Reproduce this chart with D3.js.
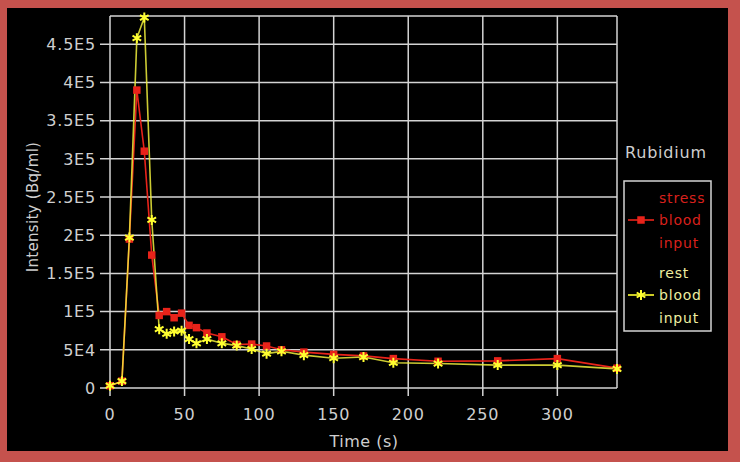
<!DOCTYPE html>
<html>
<head>
<meta charset="utf-8">
<script src="https://cdn.jsdelivr.net/npm/d3@7"></script>
<style>
  body { margin: 0; background: #c5524d; }
  svg { display: block; }
  text { font-family: "DejaVu Sans", sans-serif; }
</style>
</head>
<body>
<script>
// time points (s), shared by both curves
var times = [0, 8, 13, 18, 23, 28, 33, 38, 43, 48, 53, 58, 65, 75, 85, 95, 105, 115, 130, 150, 170, 190, 220, 260, 300, 340];
// stress blood input (Bq/ml)
var stressValues = [3000, 9000, 195000, 390000, 310000, 174000, 95000, 100000, 92000, 98000, 82000, 79000, 72000, 67000, 57000, 57500, 55000, 50000, 47000, 44000, 42000, 38500, 35000, 35500, 38500, 26000];
// rest blood input (Bq/ml)
var restValues = [3000, 9000, 197000, 458000, 485000, 220000, 77000, 71000, 74000, 75000, 64000, 58500, 64000, 58500, 55500, 51000, 45000, 48000, 43000, 39000, 40500, 33000, 32000, 30000, 30000, 25000];
var xTicks = [0, 50, 100, 150, 200, 250, 300];
var yTicks = [0, 5e4, 1e5, 1.5e5, 2e5, 2.5e5, 3e5, 3.5e5, 4e5, 4.5e5];
var xMax = 340, yMax = 487000;

var W = 740, H = 462;
var svg = d3.select("body").append("svg").attr("width", W).attr("height", H);

// red frame + black panel
svg.append("rect").attr("x", 0).attr("y", 0).attr("width", W).attr("height", H).attr("fill", "#c5524d");
svg.append("rect").attr("x", 7).attr("y", 8).attr("width", 721).attr("height", 443).attr("fill", "#000");

var x = d3.scaleLinear().domain([0, xMax]).range([110, 617]);
var y = d3.scaleLinear().domain([0, yMax]).range([388, 16]);

function fmtE(v){
    if(v==0) return "0";
    var e = Math.floor(Math.log10(v));
    var m = +(v/Math.pow(10,e)).toFixed(2);
    return m + "E" + e;
}

var gridColor = "#d4d4d4";
var labelColor = "#cfcfcf";

// grid
var grid = svg.append("g");
yTicks.forEach(function(t){
    grid.append("line").attr("x1", x(0)-10).attr("x2", x(xMax)).attr("y1", y(t)).attr("y2", y(t))
        .style("stroke", gridColor).style("stroke-width", "1.5px");
});
grid.append("line").attr("x1", x(0)).attr("x2", x(xMax)).attr("y1", y(yMax)).attr("y2", y(yMax))
    .style("stroke", gridColor).style("stroke-width", "1.5px");
xTicks.forEach(function(t){
    grid.append("line").attr("x1", x(t)).attr("x2", x(t)).attr("y1", y(0)+8).attr("y2", y(yMax))
        .style("stroke", gridColor).style("stroke-width", "1.5px");
});
grid.append("line").attr("x1", x(xMax)).attr("x2", x(xMax)).attr("y1", y(0)).attr("y2", y(yMax))
    .style("stroke", gridColor).style("stroke-width", "1.5px");

// tick labels
svg.append("g").selectAll("text").data(yTicks).join("text")
    .attr("x", 96).attr("y", function(d){ return y(d); }).attr("dy", "0.36em")
    .attr("text-anchor", "end").style("font-size", "16px").style("letter-spacing", "0.8px")
    .attr("fill", labelColor).text(fmtE);

svg.append("g").selectAll("text").data(xTicks).join("text")
    .attr("x", function(d){ return x(d); }).attr("y", 414).attr("dy", "0.36em")
    .attr("text-anchor", "middle").style("font-size", "16px").style("letter-spacing", "0.8px")
    .attr("fill", labelColor).text(function(d){ return d; });

// axis titles
svg.append("text").attr("x", 364).attr("y", 441).attr("dy", "0.36em").attr("text-anchor", "middle")
    .style("font-size", "16px").style("letter-spacing", "0.5px").attr("fill", labelColor).text("Time (s)");
svg.append("text").attr("transform", "translate(33,207) rotate(-90)").attr("dy", "0.36em").attr("text-anchor", "middle")
    .style("font-size", "15px").style("letter-spacing", "0.3px").attr("fill", labelColor).text("Intensity (Bq/ml)");

// series
var stressColor = "#e8231a", restColor = "#f0ee3c";
var line = d3.line().x(function(d){ return x(d[0]); }).y(function(d){ return y(d[1]); });
var stress = d3.zip(times, stressValues);
var rest = d3.zip(times, restValues);

var clip = svg.append("clipPath").attr("id", "plotClip").append("rect")
    .attr("x", x(0)-6).attr("y", y(yMax)-6).attr("width", x(xMax)-x(0)+12).attr("height", y(0)-y(yMax)+12);

var plot = svg.append("g").attr("clip-path", "url(#plotClip)");
plot.append("path").datum(stress).attr("d", line).attr("fill", "none")
    .style("stroke", stressColor).style("stroke-width", "1.6px");
plot.append("path").datum(rest).attr("d", line).attr("fill", "none")
    .style("stroke", restColor).style("stroke-width", "1.6px").style("opacity", 0.85);

var sq = d3.symbol(d3.symbolSquare, 56);
var star = d3.symbol(d3.symbolAsterisk, 70);
plot.append("g").selectAll("path").data(stress).join("path")
    .attr("transform", function(d){ return "translate(" + x(d[0]) + "," + y(d[1]) + ")"; })
    .attr("d", sq).attr("fill", stressColor);
plot.append("g").selectAll("path").data(rest).join("path")
    .attr("transform", function(d){ return "translate(" + x(d[0]) + "," + y(d[1]) + ")"; })
    .attr("d", star).attr("fill", "none").style("stroke", "#ffff30").style("stroke-width", "2px");

// legend
svg.append("text").attr("x", 625).attr("y", 152).attr("dy", "0.36em")
    .style("font-size", "16px").style("letter-spacing", "0.8px").attr("fill", labelColor).text("Rubidium");
svg.append("rect").attr("x", 624).attr("y", 181).attr("width", 87).attr("height", 150)
    .attr("fill", "none").style("stroke", gridColor).style("stroke-width", "1.5px");

var legendItems = [
    {lines: ["stress", "blood", "input"], y: 220, color: "#d8201c", mark: sq, markStroke: false},
    {lines: ["rest", "blood", "input"], y: 295, color: "#eeeea0", mark: star, markStroke: true}
];
legendItems.forEach(function(it, i){
    var lg = svg.append("g");
    var c = i==0 ? stressColor : "#ffff30";
    lg.append("line").attr("x1", 628).attr("x2", 654).attr("y1", it.y).attr("y2", it.y)
        .style("stroke", c).style("stroke-width", "1.6px");
    var m = lg.append("path").attr("transform", "translate(641," + it.y + ")").attr("d", it.mark);
    if(it.markStroke){ m.attr("fill", "none").style("stroke", c).style("stroke-width", "2px"); }
    else { m.attr("fill", c); }
    it.lines.forEach(function(s, k){
        lg.append("text").attr("x", 659).attr("y", it.y + (k-1)*22.5).attr("dy", "0.36em")
            .style("font-size", "14px").style("letter-spacing", "0.8px").attr("fill", it.color).text(s);
    });
});
</script>
</body>
</html>
